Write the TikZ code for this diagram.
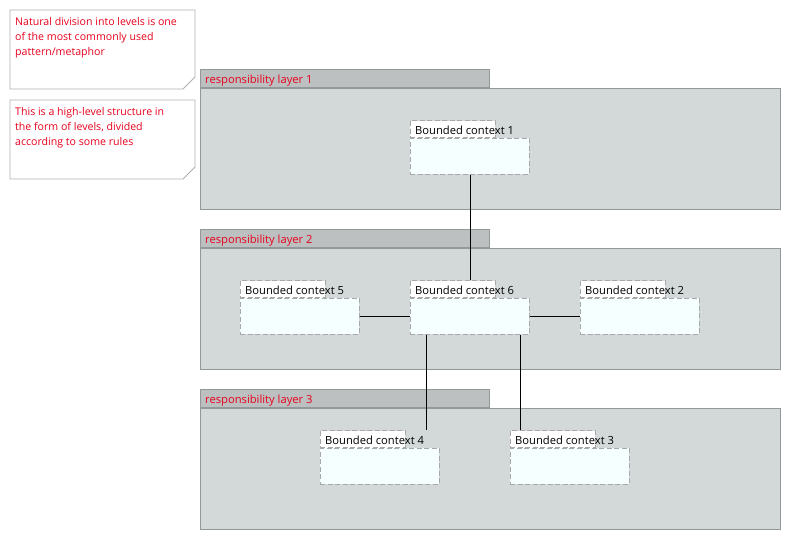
\documentclass[tikz,border=0pt]{standalone}
\usepackage{fontspec}
\setmainfont{Open Sans}
\usetikzlibrary{calc}
\definecolor{layerfill}{HTML}{D3D8D8}
\definecolor{tabfill}{HTML}{BCC0C0}
\definecolor{layerline}{HTML}{939999}
\definecolor{bcfill}{HTML}{F5FFFF}
\definecolor{bcline}{HTML}{A8A8A8}
\definecolor{notered}{HTML}{E8001C}
\definecolor{noteline}{HTML}{B0B0B0}
\tikzset{
  notefont/.style={font=\fontsize{10.6}{15}\selectfont},
  labelfont/.style={font=\fontsize{11.2}{15}\selectfont},
  layerbody/.style={draw=layerline, fill=layerfill, line width=0.8pt, inner sep=0pt, anchor=north west, minimum width=580pt, minimum height=121pt},
  layertab/.style={draw=layerline, fill=tabfill, line width=0.8pt, inner sep=0pt, anchor=south west, minimum width=289pt, minimum height=18pt},
  layertext/.style={labelfont, text=notered, anchor=west, inner sep=0pt},
  bcbody/.style={draw=bcline, fill=bcfill, dash pattern=on 5pt off 2.5pt, line width=0.8pt, inner sep=0pt, anchor=north west, minimum width=119pt, minimum height=36pt},
  bctab/.style={draw=bcline, fill=white, dash pattern=on 5pt off 2.5pt, line width=0.8pt, inner sep=0pt, anchor=south west, minimum width=85pt, minimum height=17pt},
  bctext/.style={labelfont, text=black, anchor=west, inner sep=0pt},
  notetext/.style={notefont, text=notered, anchor=north west, inner sep=0pt, align=left},
  conn/.style={draw=black, line width=0.8pt},
}
\begin{document}
\begin{tikzpicture}[x=1pt,y=-1pt]
\useasboundingbox (0,0) rectangle (791,540);
\fill[white] (0,0) rectangle (791,540);

% notes
\draw[noteline, line width=0.8pt, fill=white] (10,10) -- (195,10) -- (195,77) -- (183,89) -- (10,89) -- cycle;
\node[notetext] (n1) at (15,17) {Natural division into levels is one\\of the most commonly used\\pattern/metaphor};
\draw[noteline, line width=0.8pt, fill=white] (10,100) -- (195,100) -- (195,167) -- (183,179) -- (10,179) -- cycle;
\node[notetext] (n2) at (15,107) {This is a high-level structure in\\the form of levels, divided\\according to some rules};

% layers
\foreach \i/\y in {1/88,2/248,3/408}{
  \node[layerbody] (L\i) at (200,\y) {};
  \node[layertab] (L\i t) at (L\i.north west) {};
  \node[layertext] (L\i l) at ($(L\i t.west)+(5,1.5)$) {responsibility layer \i};
}

% bounded contexts
\foreach \n/\x/\y in {1/410/138, 5/240/298, 6/410/298, 2/580/298, 4/320/448, 3/510/448}{
  \node[bcbody] (bc\n) at (\x,\y) {};
  \node[bctab] (bc\n t) at (bc\n.north west) {};
  \node[bctext] (bc\n l) at ($(bc\n t.west)+(5,1)$) {Bounded context \n};
}

% connectors
\coordinate (c14) at ($(bc4t.north west)+(106,0)$);
\coordinate (c13) at ($(bc3t.north west)+(10,0)$);
\draw[conn] (bc1.south) -- (bc1.south |- bc6t.north);
\draw[conn] (bc5.east) -- (bc6.west);
\draw[conn] (bc6.east) -- (bc2.west);
\draw[conn] (c14 |- bc6.south) -- (c14);
\draw[conn] (c13 |- bc6.south) -- (c13);
\end{tikzpicture}
\end{document}
